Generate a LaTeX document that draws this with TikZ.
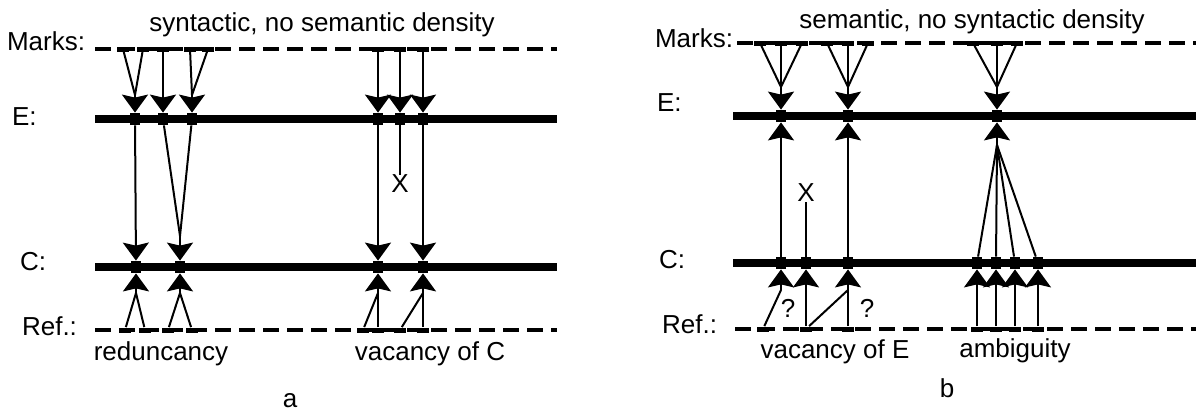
\documentclass[tikz,border=0pt]{standalone}
\usepackage{fontspec}
\setmainfont{Liberation Sans}
\usetikzlibrary{arrows.meta}

\begin{document}
\begin{tikzpicture}[x=0.5pt,y=-0.5pt,
  every node/.style={font=\fontsize{13}{15}\selectfont},
  axis/.style={line width=4pt},
  dline/.style={line width=2pt,dash pattern=on 8pt off 4pt},
  mk/.style={fill,rectangle,inner sep=0pt,minimum width=6pt,minimum height=2.5pt},
  lnpt/.style={fill,rectangle,inner sep=0pt,minimum width=5pt,minimum height=6pt},
  conn/.style={line width=1pt},
  arr/.style={line width=1pt,-{Stealth[length=9pt 0 0,width=13pt 0,inset=1.5pt 0]}}]
  \useasboundingbox (0,0) rectangle (1196,412);

  % panel a
  \draw[dline] (95,49) -- (557,49);
  \draw[axis] (95,119) -- (557,119);
  \draw[axis] (95,267) -- (557,267);
  \draw[dline] (95,330) -- (557,330);
  \node[anchor=base west] (marksa) at (0,50) {Marks:};
  \node[anchor=base west] (elaba) at (5,125) {E:};
  \node[anchor=base west] (claba) at (13,270) {C:};
  \node[anchor=base west] (refa) at (15,335) {Ref.:};
  \node[anchor=base] (titlea) at (322,32) {syntactic, no semantic density};
  \node[anchor=base] (reda) at (161,360) {reduncancy};
  \node[anchor=base] (vaca) at (430,360) {vacancy of C};
  \node[anchor=base] (capa) at (290,407) {a};

  \node[mk] (ma1) at (123,49) {};
  \node[mk] (ma2) at (143,49) {};
  \node[mk] (ma3) at (163,49) {};
  \node[mk] (ma4) at (190,49) {};
  \node[mk] (ma5) at (208,49) {};
  \node[mk] (ma6) at (378,49) {};
  \node[mk] (ma7) at (400,49) {};
  \node[mk] (ma8) at (423,49) {};

  \node[lnpt] (ea1) at (135,119) {};
  \node[lnpt] (ea2) at (163,119) {};
  \node[lnpt] (ea3) at (192,119) {};
  \node[lnpt] (ea4) at (378,119) {};
  \node[lnpt] (ea5) at (400,119) {};
  \node[lnpt] (ea6) at (423,119) {};

  \node[lnpt] (ca1) at (136,267) {};
  \node[lnpt] (ca2) at (180,267) {};
  \node[lnpt] (ca3) at (378,267) {};
  \node[lnpt] (ca4) at (423,267) {};

  \node[mk] (ra1) at (125,330) {};
  \node[mk] (ra2) at (145,330) {};
  \node[mk] (ra3) at (168,330) {};
  \node[mk] (ra4) at (192,330) {};
  \node[mk] (ra5) at (363,330) {};
  \node[mk] (ra6) at (378,330) {};
  \node[mk] (ra7) at (400,330) {};
  \node[mk] (ra8) at (423,330) {};

  \node[inner sep=0pt] (xa) at (400,184) {X};

  \coordinate (ja1) at (135,95);
  \coordinate (ja2) at (192,95);
  \draw[conn] (ma1) -- (ja1);
  \draw[conn] (ma2) -- (ja1);
  \draw[arr] (ja1) -- (ea1);
  \draw[arr] (ma3) -- (ea2);
  \draw[conn] (ma4) -- (ja2);
  \draw[conn] (ma5) -- (ja2);
  \draw[arr] (ja2) -- (ea3);
  \draw[arr] (ma6) -- (ea4);
  \draw[arr] (ma7) -- (ea5);
  \draw[arr] (ma8) -- (ea6);

  \coordinate (ja3) at (180,236);
  \draw[arr] (ea1) -- (ca1);
  \draw[conn] (ea2) -- (ja3);
  \draw[conn] (ea3) -- (ja3);
  \draw[arr] (ja3) -- (ca2);
  \draw[arr] (ea4) -- (ca3);
  \draw[conn] (ea5) -- (xa.north);
  \draw[arr] (ea6) -- (ca4);

  \coordinate (ja4) at (136,293);
  \coordinate (ja5) at (180,293);
  \coordinate (ja6) at (378,293);
  \coordinate (ja7) at (423,293);
  \draw[conn] (ra1) -- (ja4);
  \draw[conn] (ra2) -- (ja4);
  \draw[arr] (ja4) -- (ca1);
  \draw[conn] (ra3) -- (ja5);
  \draw[conn] (ra4) -- (ja5);
  \draw[arr] (ja5) -- (ca2);
  \draw[conn] (ra5) -- (ja6);
  \draw[arr] (ra6) -- (ca3);
  \draw[conn] (ra7) -- (ja7);
  \draw[arr] (ra8) -- (ca4);

  % panel b
  \draw[dline] (737,43) -- (1196,43);
  \draw[axis] (733,116) -- (1196,116);
  \draw[axis] (733,263) -- (1196,263);
  \draw[dline] (735,329) -- (1196,329);
  \node[anchor=base west] (marksb) at (648,47) {Marks:};
  \node[anchor=base west] (elabb) at (650,112) {E:};
  \node[anchor=base west] (clabb) at (652,268) {C:};
  \node[anchor=base west] (refb) at (655,333) {Ref.:};
  \node[anchor=base] (titleb) at (972,28) {semantic, no syntactic density};
  \node[anchor=base] (vacb) at (835,358) {vacancy of E};
  \node[anchor=base] (ambb) at (1015,357) {ambiguity};
  \node[anchor=base] (capb) at (947,397) {b};
  \node (qb1) at (788,308) {?};
  \node (qb2) at (867,308) {?};

  \node[mk] (mb1) at (760,43) {};
  \node[mk] (mb2) at (781,43) {};
  \node[mk] (mb3) at (802,43) {};
  \node[mk] (mb4) at (827,43) {};
  \node[mk] (mb5) at (848,43) {};
  \node[mk] (mb6) at (868,43) {};
  \node[mk] (mb7) at (973,43) {};
  \node[mk] (mb8) at (997,43) {};
  \node[mk] (mb9) at (1017,43) {};

  \node[lnpt] (eb1) at (781,116) {};
  \node[lnpt] (eb2) at (848,116) {};
  \node[lnpt] (eb3) at (997,116) {};

  \node[lnpt] (cb1) at (781,263) {};
  \node[lnpt] (cb2) at (806,263) {};
  \node[lnpt] (cb3) at (848,263) {};
  \node[lnpt] (cb4) at (977,263) {};
  \node[lnpt] (cb5) at (996,263) {};
  \node[lnpt] (cb6) at (1015,263) {};
  \node[lnpt] (cb7) at (1038,263) {};

  \node[mk] (rb1) at (763,329) {};
  \node[mk] (rb2) at (806,329) {};
  \node[mk] (rb3) at (848,329) {};
  \node[mk] (rb4) at (977,329) {};
  \node[mk] (rb5) at (996,329) {};
  \node[mk] (rb6) at (1015,329) {};
  \node[mk] (rb7) at (1038,329) {};

  \node[inner sep=0pt] (xb) at (806,193) {X};

  \coordinate (jb1) at (781,87);
  \coordinate (jb2) at (848,87);
  \coordinate (jb3) at (997,87);
  \draw[conn] (mb1) -- (jb1);
  \draw[conn] (mb3) -- (jb1);
  \draw[arr] (mb2) -- (eb1);
  \draw[conn] (mb4) -- (jb2);
  \draw[conn] (mb6) -- (jb2);
  \draw[arr] (mb5) -- (eb2);
  \draw[conn] (mb7) -- (jb3);
  \draw[conn] (mb9) -- (jb3);
  \draw[arr] (mb8) -- (eb3);

  \coordinate (jb4) at (997,145);
  \draw[arr] (cb1) -- (eb1);
  \draw[conn] (cb2) -- (xb.south);
  \draw[arr] (cb3) -- (eb2);
  \draw[conn] (cb4) -- (jb4);
  \draw[conn] (cb5) -- (jb4);
  \draw[conn] (cb6) -- (jb4);
  \draw[conn] (cb7) -- (jb4);
  \draw[arr] (jb4) -- (eb3);

  \coordinate (jb5) at (781,290);
  \coordinate (jb6) at (848,290);
  \draw[conn] (rb1) -- (jb5);
  \draw[arr] (jb5) -- (cb1);
  \draw[arr] (rb2) -- (cb2);
  \draw[conn] (rb2) -- (jb6);
  \draw[arr] (rb3) -- (cb3);
  \draw[arr] (rb4) -- (cb4);
  \draw[arr] (rb5) -- (cb5);
  \draw[arr] (rb6) -- (cb6);
  \draw[arr] (rb7) -- (cb7);
\end{tikzpicture}
\end{document}
